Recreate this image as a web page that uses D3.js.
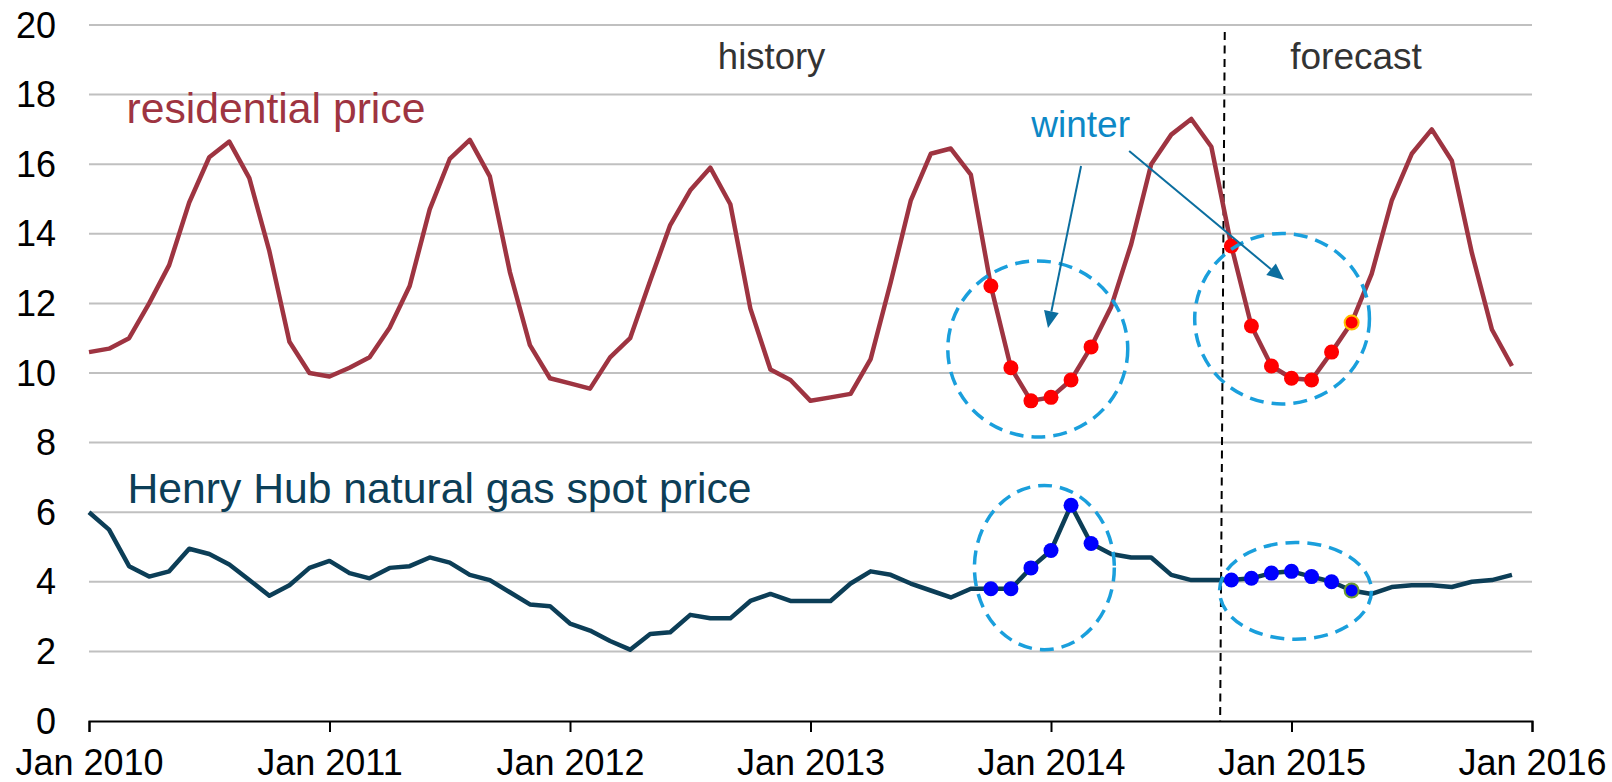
<!DOCTYPE html>
<html>
<head>
<meta charset="utf-8">
<script src="https://cdn.jsdelivr.net/npm/d3@7"></script>
<style>
  body { margin: 0; background: #fff; }
  text { font-family: "Liberation Sans", Arial, sans-serif; }
</style>
</head>
<body>
<div id="chart"></div>
<script>
// monthly values, Jan 2010 .. Dec 2015 (index 0 = Jan 2010)
var residential = [
  10.6, 10.7, 11.0, 12.0, 13.1, 14.9, 16.2, 16.65, 15.6, 13.5, 10.9, 10.0,
  9.9, 10.15, 10.45, 11.3, 12.5, 14.7, 16.15, 16.7, 15.65, 12.9, 10.8, 9.85,
  9.7, 9.55, 10.45, 11.0, 12.65, 14.25, 15.25, 15.9, 14.85, 11.85, 10.1, 9.8,
  9.2, 9.3, 9.4, 10.4, 12.6, 14.95, 16.3, 16.45, 15.7, 12.5, 10.15, 9.2,
  9.3, 9.8, 10.75, 11.9, 13.7, 16.0, 16.85, 17.3, 16.5, 13.65, 11.35, 10.2,
  9.85, 9.8, 10.6, 11.45, 12.85, 14.95, 16.3, 17.0, 16.1, 13.45, 11.25, 10.2
];
var henryHub = [
  6.0, 5.5, 4.45, 4.15, 4.3, 4.95, 4.8, 4.5, 4.05, 3.6, 3.9, 4.4,
  4.6, 4.25, 4.1, 4.4, 4.45, 4.7, 4.55, 4.2, 4.05, 3.7, 3.35, 3.3,
  2.8, 2.6, 2.3, 2.05, 2.5, 2.55, 3.05, 2.95, 2.95, 3.45, 3.65, 3.45,
  3.45, 3.45, 3.95, 4.3, 4.2, 3.95, 3.75, 3.55, 3.8, 3.8, 3.8, 4.4,
  4.9, 6.2, 5.1, 4.8, 4.7, 4.7, 4.2, 4.05, 4.05, 4.05, 4.1, 4.25,
  4.3, 4.15, 4.0, 3.75, 3.65, 3.85, 3.9, 3.9, 3.85, 4.0, 4.05, 4.2
];
// winter months highlighted with dots
var winterMonths = [45, 46, 47, 48, 49, 50, 57, 58, 59, 60, 61, 62, 63];
var lastHistoryDot = 63;
var yearTicks = [0, 12, 24, 36, 48, 60, 72];
var yearLabels = ["Jan 2010", "Jan 2011", "Jan 2012", "Jan 2013", "Jan 2014", "Jan 2015", "Jan 2016"];
var valueTicks = [0, 2, 4, 6, 8, 10, 12, 14, 16, 18, 20];

// annotation ellipses in data units: [month, value, radius months, radius value]
var ellipses = [
  [47.34, 10.69, 4.49, 2.53],
  [59.53, 11.56, 4.36, 2.45],
  [47.67, 4.41, 3.49, 2.36],
  [60.2, 3.74, 3.79, 1.39]
];
// winter arrows: [fromMonth, fromValue, toMonth, toValue]
var arrows = [
  [49.5, 15.95, 47.85, 11.29],
  [51.9, 16.38, 59.63, 12.67]
];

var width = 1612, height = 782;

var svg = d3.select("#chart")
  .append("svg")
  .attr("width", width)
  .attr("height", height);

var x = d3.scaleLinear().domain([0, 72]).range([89, 1532]);
var y = d3.scaleLinear().domain([0, 20]).range([721, 25]);

// gridlines
svg.append("g")
  .selectAll("line")
  .data(valueTicks.filter(function(d) { return d > 0; }))
  .enter().append("line")
    .attr("x1", x(0)).attr("x2", x(72))
    .attr("y1", function(d) { return y(d); })
    .attr("y2", function(d) { return y(d); })
    .style("stroke", "#c0c0c0")
    .style("stroke-width", 2);

// y labels
svg.append("g")
  .selectAll("text")
  .data(valueTicks)
  .enter().append("text")
    .attr("x", 56)
    .attr("y", function(d) { return y(d); })
    .attr("dy", "0.35em")
    .attr("text-anchor", "end")
    .style("font-size", "36px")
    .style("fill", "#000")
    .text(function(d) { return d; });

// x axis
var xAxis = svg.append("g")
  .attr("transform", "translate(0," + y(0) + ")")
  .call(d3.axisBottom(x)
    .tickValues(yearTicks)
    .tickSize(11)
    .tickPadding(0)
    .tickFormat(function(d, i) { return yearLabels[i]; }));
xAxis.select(".domain").style("stroke", "#000").style("stroke-width", 2);
xAxis.selectAll(".tick line").style("stroke", "#000").style("stroke-width", 2);
xAxis.selectAll(".tick text")
  .attr("y", 54)
  .attr("dy", 0)
  .style("font-size", "36px")
  .style("font-family", '"Liberation Sans", Arial, sans-serif')
  .style("fill", "#000");

// history / forecast divider
svg.append("line")
  .attr("x1", x(56.67)).attr("y1", y(19.8))
  .attr("x2", x(56.44)).attr("y2", y(0))
  .style("stroke", "#000")
  .style("stroke-width", 2)
  .style("stroke-dasharray", "8,5.5");

var line = d3.line()
  .x(function(d, i) { return x(i); })
  .y(function(d) { return y(d); });

svg.append("path")
  .datum(residential)
  .attr("d", line)
  .style("fill", "none")
  .style("stroke", "#9e3441")
  .style("stroke-width", 4.5)
  .style("stroke-linejoin", "round");

svg.append("path")
  .datum(henryHub)
  .attr("d", line)
  .style("fill", "none")
  .style("stroke", "#0c3e57")
  .style("stroke-width", 4.5)
  .style("stroke-linejoin", "round");

// winter dots
svg.append("g")
  .selectAll("circle")
  .data(winterMonths)
  .enter().append("circle")
    .attr("cx", function(d) { return x(d); })
    .attr("cy", function(d) { return y(residential[d]); })
    .attr("r", function(d) { return d == lastHistoryDot ? 7 : 7.5; })
    .style("fill", "#ff0000")
    .style("stroke", function(d) { return d == lastHistoryDot ? "#ffc000" : "none"; })
    .style("stroke-width", 2);

svg.append("g")
  .selectAll("circle")
  .data(winterMonths)
  .enter().append("circle")
    .attr("cx", function(d) { return x(d); })
    .attr("cy", function(d) { return y(henryHub[d]); })
    .attr("r", function(d) { return d == lastHistoryDot ? 7 : 7.5; })
    .style("fill", "#0000ff")
    .style("stroke", function(d) { return d == lastHistoryDot ? "#6b9a34" : "none"; })
    .style("stroke-width", 2);

// dashed circles round winters
svg.append("g")
  .selectAll("ellipse")
  .data(ellipses)
  .enter().append("ellipse")
    .attr("cx", function(d) { return x(d[0]); })
    .attr("cy", function(d) { return y(d[1]); })
    .attr("rx", function(d) { return x(d[2]) - x(0); })
    .attr("ry", function(d) { return y(0) - y(d[3]); })
    .style("fill", "none")
    .style("stroke", "#1a9fdc")
    .style("stroke-width", 3.5)
    .style("stroke-dasharray", "14,8");

// arrows
arrows.forEach(function(a) {
  var x1 = x(a[0]), y1 = y(a[1]), x2 = x(a[2]), y2 = y(a[3]);
  var ang = Math.atan2(y2 - y1, x2 - x1);
  var len = 17, half = 7.5;
  var bx = x2 - len * Math.cos(ang), by = y2 - len * Math.sin(ang);
  svg.append("line")
    .attr("x1", x1).attr("y1", y1)
    .attr("x2", bx).attr("y2", by)
    .style("stroke", "#0b6e9f")
    .style("stroke-width", 2);
  var pts = [
    [x2, y2],
    [bx + half * Math.sin(ang), by - half * Math.cos(ang)],
    [bx - half * Math.sin(ang), by + half * Math.cos(ang)]
  ];
  svg.append("path")
    .attr("d", "M" + pts.join("L") + "Z")
    .style("fill", "#0b6e9f");
});

// labels
svg.append("text")
  .attr("x", x(1.87)).attr("y", y(17.18))
  .style("font-size", "42.7px")
  .style("fill", "#9e3441")
  .text("residential price");

svg.append("text")
  .attr("x", x(1.92)).attr("y", y(6.26))
  .style("font-size", "42.7px")
  .style("fill", "#0c3e57")
  .text("Henry Hub natural gas spot price");

svg.append("text")
  .attr("x", x(34.06)).attr("y", y(18.75))
  .attr("text-anchor", "middle")
  .style("font-size", "36.5px")
  .style("fill", "#333")
  .text("history");

svg.append("text")
  .attr("x", x(63.22)).attr("y", y(18.75))
  .attr("text-anchor", "middle")
  .style("font-size", "37px")
  .style("fill", "#333")
  .text("forecast");

svg.append("text")
  .attr("x", x(49.48)).attr("y", y(16.78))
  .attr("text-anchor", "middle")
  .style("font-size", "37px")
  .style("fill", "#0d88c6")
  .text("winter");
</script>
</body>
</html>
